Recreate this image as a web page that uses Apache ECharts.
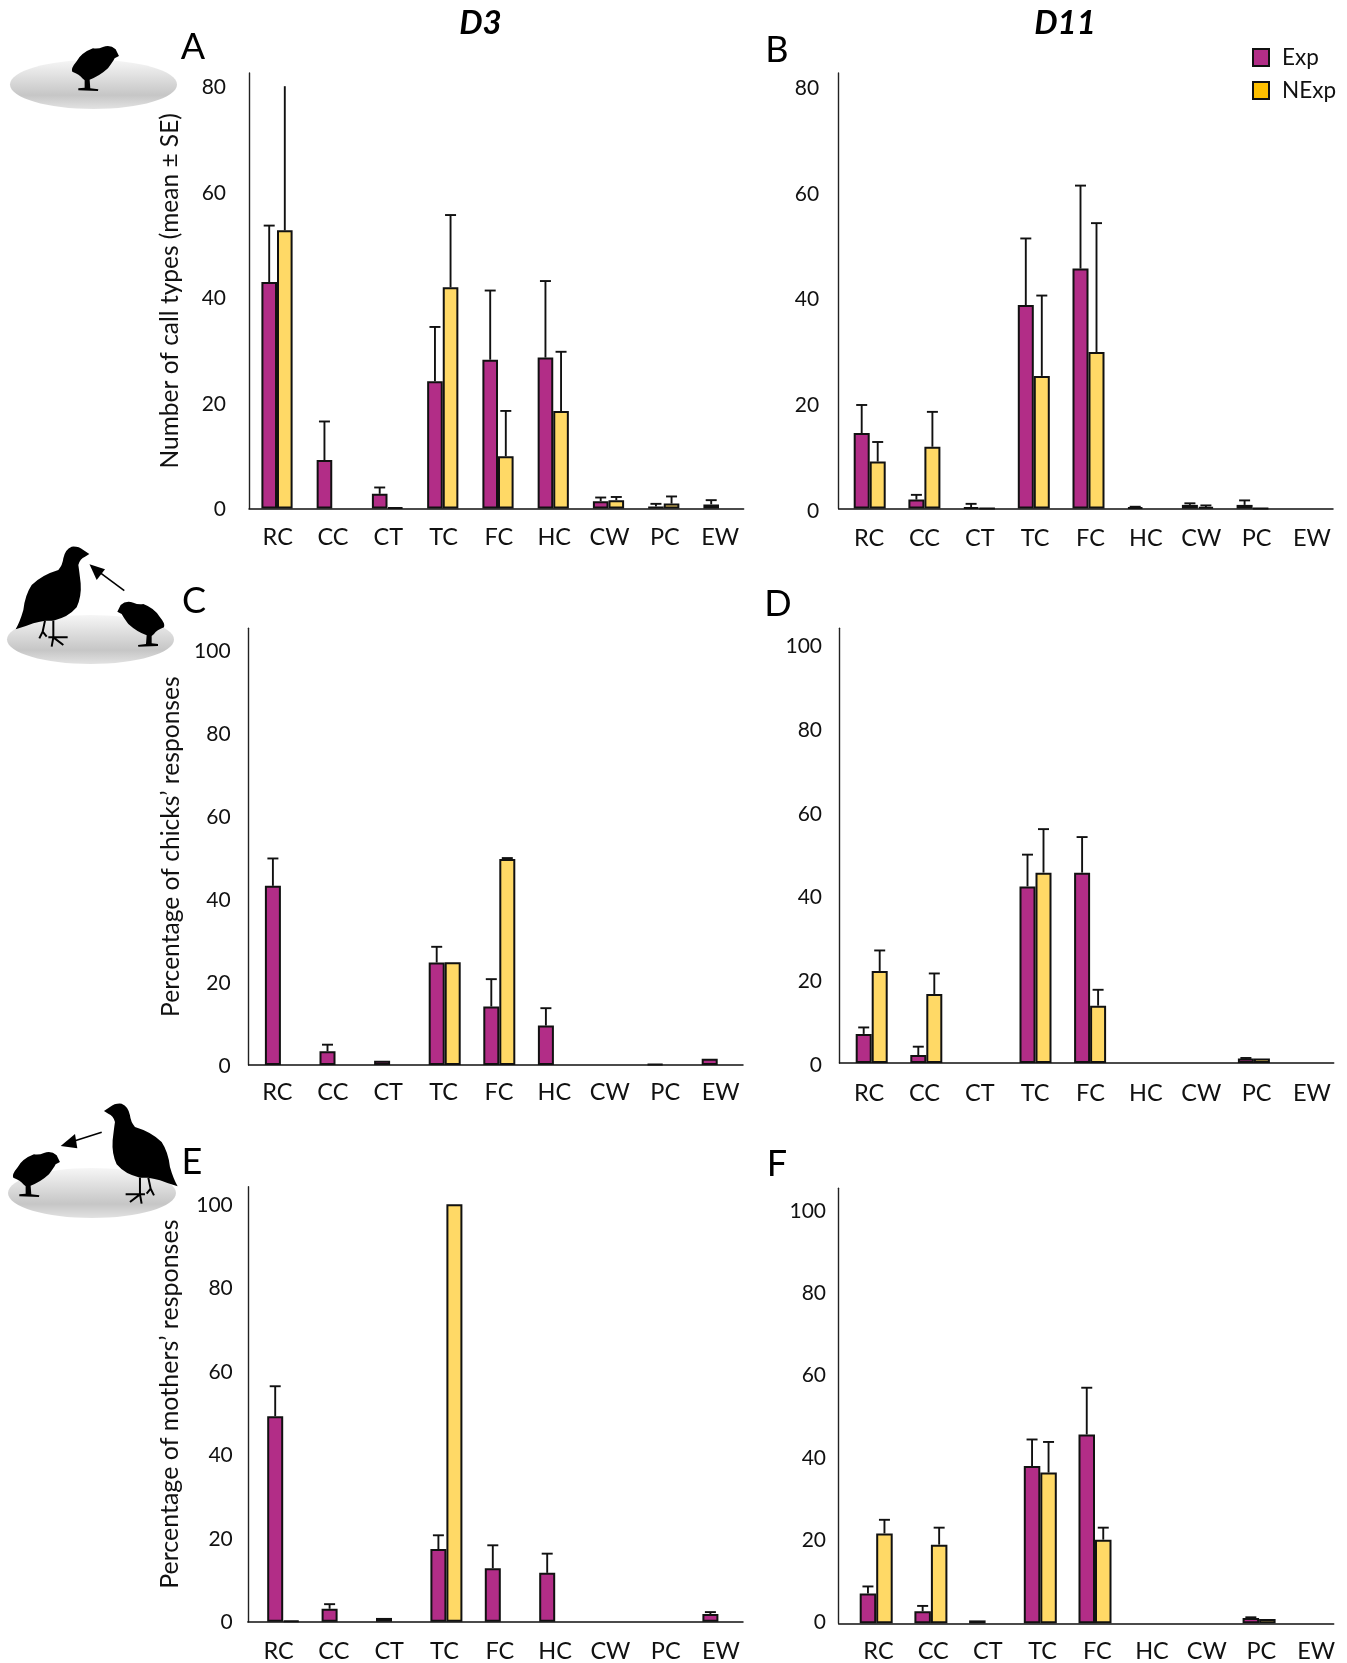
<!DOCTYPE html>
<html>
<head>
<meta charset="utf-8">
<script src="https://cdn.jsdelivr.net/npm/echarts@6/dist/echarts.min.js"></script>
<style>html,body{margin:0;padding:0;background:#fff}#c{width:1347px;height:1663px}</style>
</head>
<body>
<div id="c"></div>
<script>
var categories = ['RC','CC','CT','TC','FC','HC','CW','PC','EW'];
var seriesNames = ['Exp','NExp'];

var expA    = [42.9, 9.2, 2.8, 24.1, 28.2, 28.6, 1.4, 0.4, 0.8];
var expErrA = [53.6, 16.5, 4.0, 34.4, 41.3, 43.1, 2.1, 0.9, 1.6];
var nexpA    = [52.7, 0, 0.2, 41.9, 9.9, 18.5, 1.6, 0.95, 0];
var nexpErrA = [80, null, null, 55.6, 18.5, 29.7, 2.2, 2.3, null];

var expB    = [14.3, 1.7, 0.27, 38.5, 45.4, 0.27, 0.7, 0.7, 0];
var expErrB = [19.6, 2.6, 0.9, 51.1, 61.1, 0.35, 1.0, 1.55, null];
var nexpB    = [8.9, 11.7, 0.07, 25.1, 29.6, 0, 0.3, 0.07, 0];
var nexpErrB = [12.6, 18.3, null, 40.3, 54, null, 0.6, null, null];

var expC    = [43.2, 3.3, 1.05, 24.7, 14.1, 9.5, 0, 0.2, 1.5];
var expErrC = [49.8, 4.9, null, 28.5, 20.7, 13.7, null, null, null];
var nexpC    = [0, 0, 0, 24.8, 49.7, 0, 0, 0, 0];
var nexpErrC = [null, null, null, null, 49.9, null, null, null, null];

var expD    = [6.95, 1.9, 0, 42.2, 45.5, 0, 0, 1.05, 0];
var expErrD = [8.5, 3.9, null, 49.8, 54, null, null, 1.2, null];
var nexpD    = [22, 16.5, 0, 45.5, 13.7, 0, 0, 1.05, 0];
var nexpErrD = [26.9, 21.4, null, 55.9, 17.5, null, null, null, null];

var expE    = [49.2, 3.1, 0.9, 17.4, 12.8, 11.7, 0, 0, 1.85];
var expErrE = [56.4, 4.2, null, 20.7, 18.3, 16.3, null, null, 2.3];
var nexpE    = [0.2, 0, 0, 100, 0, 0, 0, 0, 0];
var nexpErrE = [null, null, null, null, null, null, null, null, null];

var expF    = [7.2, 2.9, 0.7, 38, 45.6, 0, 0, 1.3, 0];
var expErrF = [8.9, 4.2, null, 44.4, 56.9, null, null, 1.45, null];
var nexpF    = [21.7, 19, 0, 36.4, 20.2, 0, 0, 1.05, 0];
var nexpErrF = [25, 23.1, null, 43.8, 23.1, null, null, null, null];

var titleA = 'Number of call types (mean ± SE)';
var titleC = 'Percentage of chicks’ responses';
var titleE = 'Percentage of mothers’ responses';

// layout of each panel (pixels); value scale given as px per unit through yMax
var panels = [
 {exp:expA,nexp:nexpA,expErr:expErrA,nexpErr:nexpErrA,axisX:249,axisEnd:743.6,top:73,base:508.6,yMax:82.5,barC:277,barS:55.25,lblC:277.7,lblS:55.3,barW:15.6,yMargin:23,lblDy:1,xMargin:17,title:titleA,titleSize:24.5,nameGap:66},
 {exp:expB,nexp:nexpB,expErr:expErrB,nexpErr:nexpErrB,axisX:838.6,axisEnd:1333,top:73,base:508.6,yMax:82.4,barC:869.7,barS:54.7,lblC:869.1,lblS:55.35,barW:16,yMargin:19.5,lblDy:2.5,xMargin:18},
 {exp:expC,nexp:nexpC,expErr:expErrC,nexpErr:nexpErrC,axisX:248.6,axisEnd:743,top:628.3,base:1065,yMax:105.3,barC:280.9,barS:54.6,lblC:277.4,lblS:55.4,barW:16,yMargin:18,lblDy:1,xMargin:15,title:titleC,titleSize:24.6,nameGap:65},
 {exp:expD,nexp:nexpD,expErr:expErrD,nexpErr:nexpErrD,axisX:839.5,axisEnd:1333.7,top:628.3,base:1063,yMax:103.9,barC:871.7,barS:54.6,lblC:869.1,lblS:55.35,barW:16,yMargin:17.5,lblDy:2,xMargin:18},
 {exp:expE,nexp:nexpE,expErr:expErrE,nexpErr:nexpErrE,axisX:247.8,axisEnd:743,top:1186.7,base:1621.7,yMax:104.2,barC:283.2,barS:54.4,lblC:278.6,lblS:55.3,barW:16,yMargin:15,lblDy:1,xMargin:17.5,title:titleE,titleSize:25,nameGap:65},
 {exp:expF,nexp:nexpF,expErr:expErrF,nexpErr:nexpErrF,axisX:838.7,axisEnd:1333.7,top:1188.3,base:1623.3,yMax:105.07,barC:876.2,barS:54.7,lblC:878.5,lblS:54.7,barW:16.5,yMargin:12.7,lblDy:2,xMargin:18.5}
];

var FONT = 'Lato';
var INK = '#111';
var EXP_COLOR = '#B22D87', NEXP_COLOR = '#FFD966', NEXP_LEGEND = '#FFC000';

var grid = [], xAxis = [], yAxis = [], series = [];

panels.forEach(function (p) {
  var h = p.base - p.top;
  // frame grid: real axis lines and the rotated axis title
  var fi = grid.length;
  grid.push({left:p.axisX, top:p.top, width:p.axisEnd - p.axisX, height:h});
  xAxis.push({gridIndex:fi, type:'value', min:0, max:1, splitLine:{show:false}, axisTick:{show:false}, axisLabel:{show:false},
    axisLine:{show:true, onZero:false, lineStyle:{color:INK, width:1.5}}});
  yAxis.push({gridIndex:fi, type:'value', min:0, max:p.yMax, interval:20, splitLine:{show:false}, axisTick:{show:false},
    axisLine:{show:true, lineStyle:{color:'#222', width:1.4}},
    axisLabel:{show:false},
    name:p.title||'', nameLocation:'middle', nameRotate:90, nameGap:p.nameGap||0,
    nameTextStyle:{color:INK, fontFamily:FONT, fontSize:p.titleSize||20}});

  // bar grid: category bands of the bars
  var bi = grid.length;
  grid.push({left:p.barC - p.barS/2, top:p.top, width:p.barS*9, height:h});
  xAxis.push({gridIndex:bi, type:'category', data:categories, axisLine:{show:false}, axisTick:{show:false}, axisLabel:{show:false}});
  yAxis.push({gridIndex:bi, type:'value', min:0, max:p.yMax, show:false, splitLine:{show:false}});

  // label grid: category labels and value labels, sitting slightly below the tick positions as in the source
  var li = grid.length;
  var lblLeft = p.lblC - p.lblS/2;
  grid.push({left:lblLeft, top:p.top + p.lblDy, width:p.lblS*9, height:h});
  xAxis.push({gridIndex:li, type:'category', data:categories, axisLine:{show:false}, axisTick:{show:false},
    axisLabel:{margin:p.xMargin - p.lblDy, color:INK, fontFamily:FONT, fontSize:23.5, interval:0}});
  yAxis.push({gridIndex:li, type:'value', min:0, max:p.yMax, interval:20, splitLine:{show:false}, axisTick:{show:false}, axisLine:{show:false},
    axisLabel:{margin:p.yMargin + (lblLeft - p.axisX), showMaxLabel:false, color:INK, fontFamily:FONT, fontSize:21}});

  [[p.exp, EXP_COLOR, seriesNames[0]], [p.nexp, NEXP_COLOR, seriesNames[1]]].forEach(function (s) {
    series.push({name:s[2], type:'bar', xAxisIndex:bi, yAxisIndex:bi,
      data:s[0].map(function (v) { return v === 0 ? null : v; }), barWidth:p.barW, barGap:0,
      itemStyle:{color:s[1], borderColor:INK, borderWidth:2}, z:3, silent:true, animation:false});
  });
  [[p.exp, p.expErr, -1], [p.nexp, p.nexpErr, 1]].forEach(function (s) {
    var rows = [];
    s[1].forEach(function (t, i) { if (t !== null) rows.push([i, s[0][i], t]); });
    series.push({name:'', type:'custom', xAxisIndex:bi, yAxisIndex:bi, data:rows, encode:{x:0, y:[1,2]}, z:2, silent:true, animation:false,
      renderItem:function (params, api) {
        var a = api.coord([api.value(0), api.value(1)]);
        var b = api.coord([api.value(0), api.value(2)]);
        var x = a[0] + s[2]*p.barW/2;
        var style = {stroke:INK, lineWidth:1.9};
        var kids = [{type:'line', shape:{x1:x, y1:a[1], x2:x, y2:b[1]}, style:style}];
        if (api.value(2) !== 80) kids.push({type:'line', shape:{x1:x-5.5, y1:b[1], x2:x+5.5, y2:b[1]}, style:style});
        return {type:'group', children:kids};
      }});
  });
});

var CHICK = 'M352,245 L362,225 Q378,210 400,218 Q415,225 430,222 Q465,235 480,262 Q497,282 492,292 Q470,300 462,312 L455,318 L455,340 L474,342 L474,348 L415,350 L414,345 L438,342 L440,316 Q410,305 385,282 Q370,262 365,252 Z';
var QUAIL = 'M268,72 L250,60 Q235,48 215,50 Q195,58 190,85 Q188,105 175,120 Q125,135 95,165 Q75,195 70,240 Q60,275 47,298 Q75,290 100,280 Q115,275 135,272 L160,272 Q205,262 230,232 Q245,200 242,160 Q238,125 235,105 Q240,85 255,80 Z';
var LEGS = 'M160,272 L160,322 M145,322 L203,322 M160,322 L155,350 M160,322 L190,345 M135,272 L128,305 L118,325 M128,305 L140,320';

echarts.graphic.registerShape('chickShape', echarts.graphic.extendPath(CHICK, {}));
echarts.graphic.registerShape('quailShape', echarts.graphic.extendPath(QUAIL, {}));
echarts.graphic.registerShape('legsShape', echarts.graphic.extendPath(LEGS, {}));

function disc(cx, cy, rx, ry) {
  return {type:'ellipse', shape:{cx:cx, cy:cy, rx:rx, ry:ry}, z:1, style:{fill:new echarts.graphic.LinearGradient(0,0,0,1,[
    {offset:0,color:'#f6f6f6'},{offset:0.72,color:'#c6c6c6'},{offset:1,color:'#e2e2e2'}])}};
}
function bird(kind, tx, ty, flip) {
  return {type:kind, x:tx, y:ty, scaleX:flip?-1/3:1/3, scaleY:1/3, z:2, style:{fill:'#000'}};
}
function legs(tx, ty, flip) {
  return {type:'legsShape', x:tx, y:ty, scaleX:flip?-1/3:1/3, scaleY:1/3, z:2, style:{fill:'none', stroke:'#000', lineWidth:6}};
}
function arrow(x1,y1,x2,y2,pts) {
  return [{type:'line', shape:{x1:x1,y1:y1,x2:x2,y2:y2}, z:2, style:{stroke:'#000', lineWidth:1.6}},
          {type:'polygon', shape:{points:pts}, z:2, style:{fill:'#000'}}];
}
function label(t, x, y, size, bold) {
  return {type:'text', x:x, y:y, z:3, style:{text:t, fontFamily:FONT, fontSize:size, fontWeight:bold?'bold':'normal', fontStyle:bold?'italic':'normal', fill:'#000', align:'center', verticalAlign:'middle'}};
}

var graphics = [
  disc(93.5,84.5,83.5,24.5),
  bird('chickShape',236.3,-25.7,true),
  disc(90.5,639.5,83.5,24.5),
  bird('quailShape',0,530,false), legs(0,530,false),
  bird('chickShape',0,530,false)
].concat(arrow(124.3,590.7,100,572.7,[[89.5,564.3],[105,569.3],[96.7,580]])).concat([
  disc(92,1193,84,25),
  bird('chickShape',177.3,1080.3,true),
  bird('quailShape',193.3,1087,true), legs(193.3,1087,true)
]).concat(arrow(101.7,1132.3,75,1140.7,[[60.7,1146],[75,1134],[77.3,1148.3]])).concat([
  label('D3',480.5,23.5,33,true), label('D11',1065,23.5,33,true),
  label('A',193,47.5,36), label('B',777,50,36),
  label('C',194,601,36), label('D',778,604,36),
  label('E',192,1162,36), label('F',777,1164,36)
]);

var chart = echarts.init(document.getElementById('c'), null, {renderer:'canvas'});
chart.setOption({
  animation:false,
  backgroundColor:'#fff',
  grid:grid, xAxis:xAxis, yAxis:yAxis, series:series,
  legend:{orient:'vertical', left:1247, top:41, itemWidth:16, itemHeight:17, itemGap:10, selectedMode:false, icon:'rect',
    textStyle:{fontFamily:FONT, fontSize:22.5, color:INK, padding:[0,0,0,8]},
    data:[{name:seriesNames[0], itemStyle:{color:EXP_COLOR, borderColor:INK, borderWidth:2}},
          {name:seriesNames[1], itemStyle:{color:NEXP_LEGEND, borderColor:INK, borderWidth:2}}]},
  graphic:{elements:graphics}
});
</script>
</body>
</html>
